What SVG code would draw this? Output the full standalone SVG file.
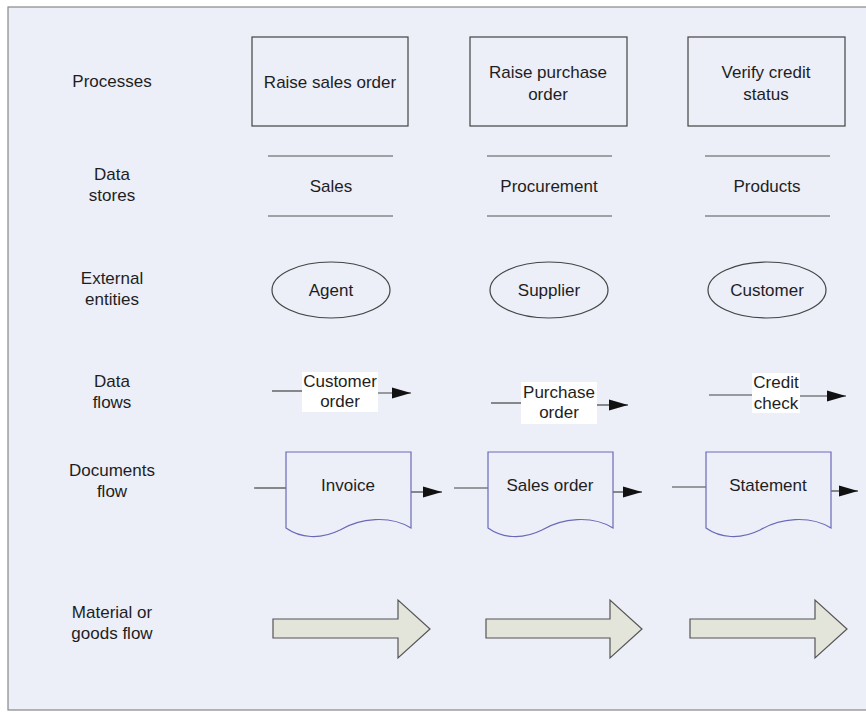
<svg xmlns="http://www.w3.org/2000/svg" width="866" height="713" viewBox="0 0 866 713">
<style>
text{font-family:"Liberation Sans",Arial,sans-serif;font-size:17px;fill:#1e1e1e;text-anchor:middle}
.box{fill:none;stroke:#444;stroke-width:1.2}
.ds{stroke:#555;stroke-width:1}
.ell{fill:none;stroke:#444;stroke-width:1.2}
.flow{stroke:#444;stroke-width:1.2;fill:none}
.lbl{fill:#fff}
.doc{fill:none;stroke:#6a6ab8;stroke-width:1.2}
.mat{fill:#e4e5da;stroke:#555;stroke-width:1.2}
</style>
<defs>
<marker id="ah" markerWidth="20" markerHeight="12" refX="19" refY="6" orient="auto" markerUnits="userSpaceOnUse">
<path d="M0,0.5 L19,6 L0,11.5 Z" fill="#111"/>
</marker>
</defs>
<rect x="0" y="0" width="866" height="713" fill="#fff"/>
<rect x="8" y="7" width="870" height="703" fill="#eceef8" stroke="#888" stroke-width="1.2"/>
<g id="row-labels">
<text x="112" y="87">Processes</text>
<text x="112" y="180">Data</text><text x="112" y="201">stores</text>
<text x="112" y="284">External</text><text x="112" y="305">entities</text>
<text x="112" y="387">Data</text><text x="112" y="408">flows</text>
<text x="112" y="476">Documents</text><text x="112" y="497">flow</text>
<text x="112" y="618">Material or</text><text x="112" y="639">goods flow</text>
</g>
<g id="proc1"><rect class="box" x="252" y="37" width="156" height="89"/><text x="330" y="88">Raise sales order</text></g>
<g id="proc2"><rect class="box" x="470" y="37" width="157" height="89"/><text x="548" y="78">Raise purchase</text><text x="548" y="100">order</text></g>
<g id="proc3"><rect class="box" x="688" y="37" width="157" height="89"/><text x="766" y="78">Verify credit</text><text x="766" y="100">status</text></g>
<g id="store1"><line class="ds" x1="268" y1="156" x2="393" y2="156"/><line class="ds" x1="268" y1="216" x2="393" y2="216"/><text x="331" y="192">Sales</text></g>
<g id="store2"><line class="ds" x1="487" y1="156" x2="612" y2="156"/><line class="ds" x1="487" y1="216" x2="612" y2="216"/><text x="549" y="192">Procurement</text></g>
<g id="store3"><line class="ds" x1="705" y1="156" x2="830" y2="156"/><line class="ds" x1="705" y1="216" x2="830" y2="216"/><text x="767" y="192">Products</text></g>
<g id="ent1"><ellipse class="ell" cx="331" cy="290" rx="59" ry="28"/><text x="331" y="296">Agent</text></g>
<g id="ent2"><ellipse class="ell" cx="549" cy="290" rx="59" ry="28"/><text x="549" y="296">Supplier</text></g>
<g id="ent3"><ellipse class="ell" cx="767" cy="290" rx="59" ry="28"/><text x="767" y="296">Customer</text></g>
<g id="connectors">
<line class="flow" x1="272" y1="391" x2="302" y2="391"/>
<line class="flow" x1="378" y1="393" x2="411" y2="393" marker-end="url(#ah)"/>
<line class="flow" x1="491" y1="403" x2="521" y2="403"/>
<line class="flow" x1="597" y1="405" x2="628" y2="405" marker-end="url(#ah)"/>
<line class="flow" x1="709" y1="395" x2="752" y2="395"/>
<line class="flow" x1="800" y1="396" x2="846" y2="396" marker-end="url(#ah)"/>
<line class="flow" x1="254" y1="488" x2="286" y2="488"/>
<line class="flow" x1="411" y1="492" x2="442" y2="492" marker-end="url(#ah)"/>
<line class="flow" x1="454" y1="488" x2="488" y2="488"/>
<line class="flow" x1="613" y1="492" x2="642" y2="492" marker-end="url(#ah)"/>
<line class="flow" x1="672" y1="487" x2="706" y2="487"/>
<line class="flow" x1="831" y1="491" x2="858" y2="491" marker-end="url(#ah)"/>
</g>
<g id="flow1"><rect class="lbl" x="302" y="372" width="76" height="40"/><text x="340" y="387">Customer</text><text x="340" y="407">order</text></g>
<g id="flow2"><rect class="lbl" x="521" y="382" width="76" height="42"/><text x="559" y="398">Purchase</text><text x="559" y="418">order</text></g>
<g id="flow3"><rect class="lbl" x="752" y="373" width="48" height="40"/><text x="776" y="388">Credit</text><text x="776" y="409">check</text></g>
<g id="doc1"><path class="doc" d="M286,452 H411 V528 C390,515 360,518 340,530 C320,540 300,538 286,528 Z"/><text x="348" y="491">Invoice</text></g>
<g id="doc2"><path class="doc" d="M488,452 H613 V528 C592,515 562,518 542,530 C522,540 502,538 488,528 Z"/><text x="550" y="491">Sales order</text></g>
<g id="doc3"><path class="doc" d="M706,452 H831 V528 C810,515 780,518 760,530 C740,540 720,538 706,528 Z"/><text x="768" y="491">Statement</text></g>
<g id="mat1"><path class="mat" d="M273,619 H398 V600 L430,629 L398,658 V638 H273 Z"/></g>
<g id="mat2"><path class="mat" d="M486,619 H610 V600 L642,629 L610,658 V638 H486 Z"/></g>
<g id="mat3"><path class="mat" d="M690,619 H815 V600 L847,629 L815,658 V638 H690 Z"/></g>
</svg>
